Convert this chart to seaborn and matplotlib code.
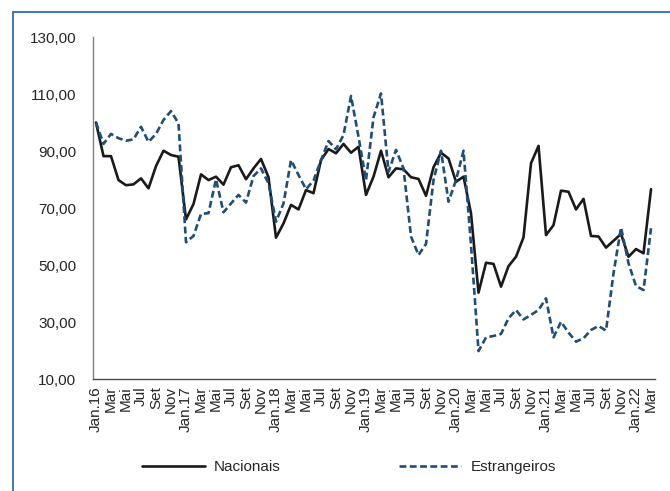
import numpy as np
import pandas as pd
import matplotlib
matplotlib.use("Agg")
import matplotlib.pyplot as plt
import seaborn as sns
from matplotlib.lines import Line2D

# dados mensais Jan.16 - Mar.22
anos = ["16", "17", "18", "19", "20", "21", "22"]
meses = ["Jan", "Fev", "Mar", "Abr", "Mai", "Jun", "Jul", "Ago", "Set", "Out", "Nov", "Dez"]

nacionais = [
    100.0, 88.2, 88.2, 79.8, 78.0, 78.3, 80.4, 76.9, 84.7, 90.1, 88.6, 88.0,
    66.0, 71.4, 81.8, 79.8, 81.0, 78.2, 84.3, 85.0, 80.1, 83.9, 87.2, 80.8,
    59.6, 64.6, 71.1, 69.5, 76.3, 75.2, 86.8, 90.7, 89.2, 92.5, 89.4, 91.5,
    74.6, 81.0, 90.1, 80.8, 83.9, 83.6, 80.8, 80.2, 74.3, 84.3, 89.4, 87.4,
    79.2, 81.0, 68.1, 40.3, 50.8, 50.4, 42.4, 49.6, 52.9, 59.7, 85.7, 91.8,
    60.5, 64.0, 76.1, 75.7, 69.5, 73.2, 60.2, 60.0, 56.1, 58.5, 60.9, 52.9,
    55.6, 54.1, 76.6,
]
estrangeiros = [
    100.0, 92.5, 96.0, 94.5, 93.6, 94.1, 98.5, 93.2, 96.0, 100.9, 104.0, 99.7,
    58.0, 60.2, 67.9, 68.2, 80.1, 68.5, 71.6, 74.6, 71.9, 81.2, 83.9, 78.7,
    65.2, 71.6, 86.8, 81.6, 76.6, 79.6, 86.8, 93.5, 90.6, 95.6, 109.3, 95.0,
    79.8, 101.8, 110.2, 82.7, 90.4, 83.9, 60.0, 53.5, 57.4, 79.8, 90.1, 72.2,
    79.8, 90.1, 57.0, 19.8, 24.6, 25.1, 25.8, 31.3, 34.2, 30.9, 32.5, 34.2,
    38.3, 24.6, 30.1, 26.3, 23.1, 24.3, 27.2, 28.6, 27.0, 47.1, 63.2, 50.6,
    42.6, 41.2, 62.9,
]
y_ticks = [10, 30, 50, 70, 90, 110, 130]
y_labels = ["10,00", "30,00", "50,00", "70,00", "90,00", "110,00", "130,00"]

# rótulos: Jan.AA no início do ano, depois de 2 em 2 meses
rotulos = []
for a in anos:
    for j, m in enumerate(meses):
        if j == 0:
            rotulos.append(f"Jan.{a}")
        elif j % 2 == 0:
            rotulos.append(m)
        else:
            rotulos.append("")
rotulos = rotulos[:len(nacionais)]

df = pd.DataFrame({"mes": np.arange(len(nacionais)),
                   "Nacionais": nacionais, "Estrangeiros": estrangeiros})

sns.set_style("white")
plt.rcParams["font.family"] = ["Liberation Sans", "DejaVu Sans"]

fig = plt.figure(figsize=(6.7, 4.91), dpi=100)
ax = fig.add_axes([0.1388, 0.2281, 0.9776 - 0.1388, 0.9246 - 0.2281])

sns.lineplot(data=df, x="mes", y="Nacionais", ax=ax, color="#1a1a1a",
             linewidth=1.9, label="Nacionais")
sns.lineplot(data=df, x="mes", y="Estrangeiros", ax=ax, color="#1f4e79",
             linewidth=1.9, dashes=False, label="Estrangeiros")
ax.lines[1].set_dashes((2.6, 1.3))

ax.set_xlim(-0.4, 74.53)
ax.set_ylim(10, 130)
ax.set_yticks(y_ticks)
ax.set_yticklabels(y_labels, fontsize=11)
ax.set_xticks(df["mes"])
ax.set_xticklabels(rotulos, rotation=90, fontsize=11, va="top", ha="center")
ax.set_xlabel("")
ax.set_ylabel("")

for s in ["top", "right"]:
    ax.spines[s].set_visible(False)
ax.spines["left"].set_color("#7f7f7f")
ax.spines["bottom"].set_color("#4a4a4a")
ax.spines["left"].set_linewidth(1.0)
ax.spines["bottom"].set_linewidth(1.0)
ax.tick_params(axis="y", direction="out", length=4, width=1, color="#7f7f7f", pad=8)
ax.tick_params(axis="x", direction="out", length=3, width=0.8, color="#4a4a4a", pad=2)
ax.tick_params(axis="x", which="major", labelsize=11)

ax.get_legend().remove()
h = [Line2D([], [], color="#1a1a1a", linewidth=1.9),
     Line2D([], [], color="#1f4e79", linewidth=1.9, dashes=(2.6, 1.3))]
fig.legend(h, ["Nacionais", "Estrangeiros"], loc="center",
           bbox_to_anchor=(0.521, 0.049), ncol=2, frameon=False, fontsize=11,
           handlelength=4.1, columnspacing=7.7, handletextpad=0.6)

# moldura azul (topo e esquerda)
fig.add_artist(Line2D([13 / 670, 1.0], [1 - 12 / 491, 1 - 12 / 491],
                      transform=fig.transFigure, color="#2e6db4", linewidth=1.3))
fig.add_artist(Line2D([13 / 670, 13 / 670], [0, 1 - 12 / 491],
                      transform=fig.transFigure, color="#2e6db4", linewidth=1.3))

fig.savefig("out.png", dpi=100)
